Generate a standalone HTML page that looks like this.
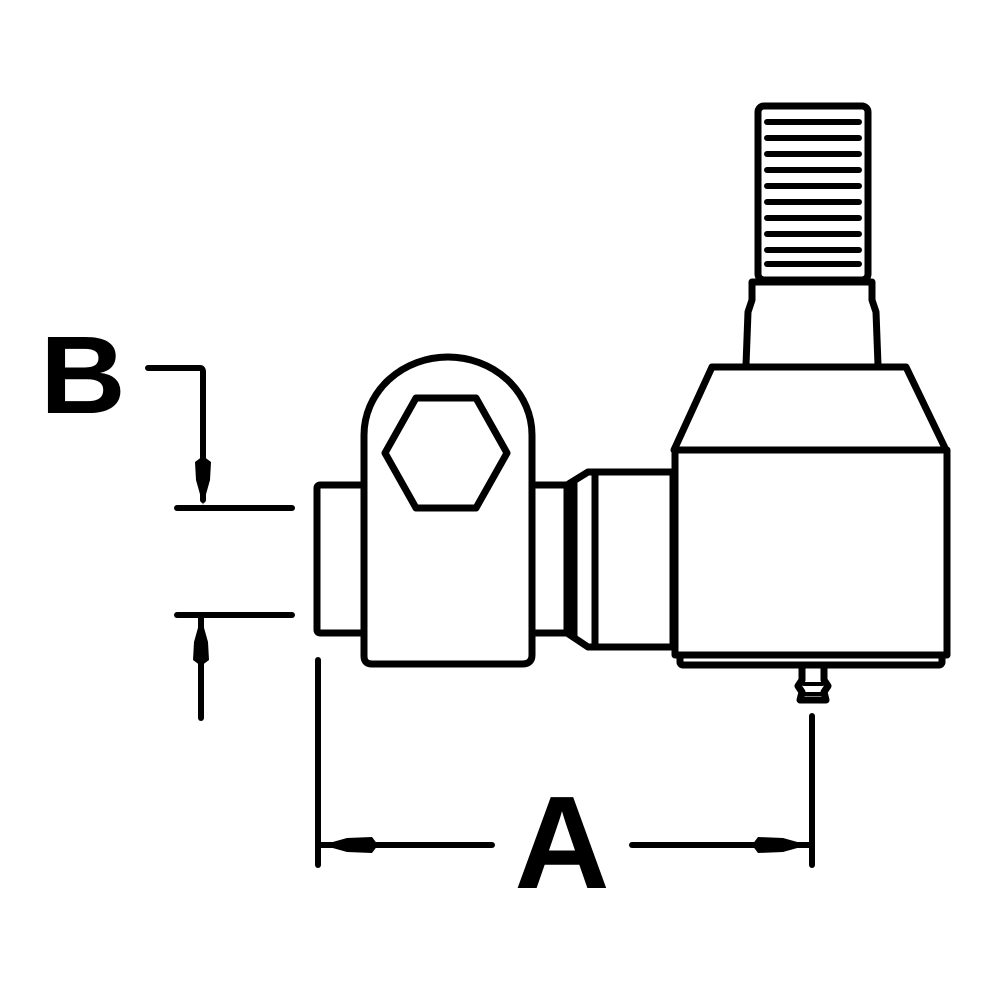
<!DOCTYPE html>
<html><head><meta charset="utf-8"><style>html,body{margin:0;padding:0;background:#fff}svg{display:block}</style></head>
<body>
<svg width="1000" height="1000" viewBox="0 0 1000 1000" xmlns="http://www.w3.org/2000/svg">
<g fill="none" stroke="#000" stroke-width="7" stroke-linejoin="round" stroke-linecap="round">
<!-- threaded stud -->
<rect x="758" y="106" width="110" height="174" rx="6"/>
<g stroke-width="6">
<line x1="767" y1="122" x2="859" y2="122"/><line x1="767" y1="138" x2="859" y2="138"/>
<line x1="767" y1="154" x2="859" y2="154"/><line x1="767" y1="170" x2="859" y2="170"/>
<line x1="767" y1="186" x2="859" y2="186"/><line x1="767" y1="202" x2="859" y2="202"/>
<line x1="767" y1="218" x2="859" y2="218"/><line x1="767" y1="234" x2="859" y2="234"/>
<line x1="767" y1="250" x2="859" y2="250"/><line x1="767" y1="264" x2="859" y2="264"/>
</g>
<!-- neck -->
<path d="M752 282 L872 282 L872 300 L876 312 L878 365 M752 282 L752 300 L748 312 L746 365"/>
<!-- cone -->
<path d="M712 367 L906 367 L946 450 L674 450 Z"/>
<!-- body -->
<rect x="675" y="450" width="272" height="205"/>
<rect x="680" y="655" width="262" height="10" rx="3"/>
<!-- grease nipple -->
<path d="M802 666 L802 680 L798 686 L802 692 L800 700 L826 700 L824 692 L828 686 L824 680 L824 666"/>
<line x1="804" y1="684" x2="822" y2="684" stroke-width="4"/>
<line x1="804" y1="694" x2="822" y2="694" stroke-width="4"/>
<!-- clevis -->
<path d="M364 435 A84 78 0 0 1 532 435 L532 655 Q532 664 522 664 L372 664 Q364 664 364 656 Z"/>
<polygon points="385,453 416,398 476,398 507,453 476,508 416,508"/>
<rect x="317" y="485" width="47" height="148" rx="3"/>
<rect x="532" y="485" width="35" height="148"/>
<path d="M567 485 L588 472 L595 472 L595 647 L588 647 L567 633"/>
<line x1="574" y1="482" x2="574" y2="636"/>
<rect x="595" y="472" width="78" height="175"/>
<!-- dimensions -->
<g stroke-width="6">
<path d="M148 368 L200 368 Q203 368 203 372 L203 500"/>
<line x1="177" y1="508" x2="292" y2="508"/>
<line x1="177" y1="615" x2="292" y2="615"/>
<line x1="201" y1="615" x2="201" y2="718"/>
<line x1="318" y1="660" x2="318" y2="865"/>
<line x1="812" y1="716" x2="812" y2="865"/>
<line x1="318" y1="845" x2="492" y2="845"/>
<line x1="632" y1="845" x2="812" y2="845"/>
</g>
</g>
<!-- arrowheads -->
<g fill="#000">
<path d="M203 505 L196 480 L195 462 L203 456 L211 462 L210 480 Z"/>
<path d="M201 617 L194 642 L193 660 L201 666 L209 660 L208 642 Z"/>
<path d="M322 845 L347 838 L372 837 L378 845 L372 853 L347 852 Z"/>
<path d="M808 845 L783 838 L758 837 L752 845 L758 853 L783 852 Z"/>
</g>
<text x="40" y="413" font-family="Liberation Sans, sans-serif" font-weight="bold" font-size="110" transform="translate(40 0) scale(1.08 1) translate(-40 0)">B</text>
<text x="562" y="888" text-anchor="middle" font-family="Liberation Sans, sans-serif" font-weight="bold" font-size="132">A</text>
</svg>
</body></html>
